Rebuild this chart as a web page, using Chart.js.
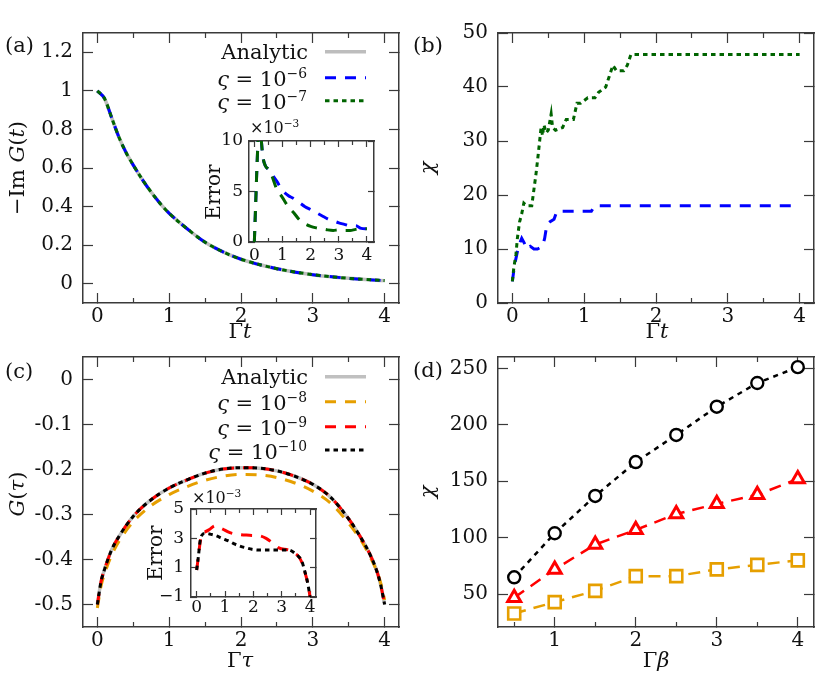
<!DOCTYPE html>
<html><head><meta charset="utf-8">
<script src="https://cdn.jsdelivr.net/npm/chart.js@4/dist/chart.umd.min.js"></script>
<style>
html,body{margin:0;padding:0;background:#fff;}
#root{position:relative;width:829px;height:675px;overflow:hidden;font-family:"DejaVu Serif",serif;color:#111;}
.t{position:absolute;white-space:nowrap;line-height:1;font-size:21px;z-index:5;}
.c{transform:translate(-50%,-50%);}
.r{transform:translate(-50%,-50%) rotate(-90deg);}
.lg{transform:translate(-100%,-50%);}
.l{transform:translate(0,-50%);}
sup{font-size:0.66em;vertical-align:0.55em;line-height:0;}
svg{position:absolute;left:0;top:0;z-index:4;}
</style></head><body><div id="root"></div>
<script>
// ---------- (a) -Im G(t) ----------
const tA = [0, 0.1, 0.2, 0.3, 0.4, 0.5, 0.6, 0.7, 0.8, 0.9, 1.0, 1.25, 1.5, 1.75, 2.0, 2.5, 3.0, 3.5, 4.0];
const imGAnalytic = [1.0, 0.96, 0.86, 0.76, 0.68, 0.615, 0.555, 0.5, 0.45, 0.405, 0.365, 0.285, 0.215, 0.165, 0.127, 0.078, 0.047, 0.028, 0.016];
const imGs6 = [1.0, 0.96, 0.86, 0.76, 0.68, 0.615, 0.555, 0.5, 0.45, 0.405, 0.365, 0.285, 0.215, 0.165, 0.127, 0.078, 0.047, 0.028, 0.016];
const imGs7 = [1.0, 0.96, 0.86, 0.76, 0.68, 0.615, 0.555, 0.5, 0.45, 0.405, 0.365, 0.285, 0.215, 0.165, 0.127, 0.078, 0.047, 0.028, 0.016];
const xTicksA = [0, 1, 2, 3, 4];
const xMinorA = [0.5, 1.5, 2.5, 3.5];
const yTicksA = [0, 0.2, 0.4, 0.6, 0.8, 1, 1.2];
// inset (a): error x 1e-3
const tErrA = [0, 0.05, 0.1, 0.15, 0.2, 0.25, 0.3, 0.4, 0.5, 0.6, 0.8, 1.0, 1.2, 1.4, 1.6, 1.8, 2.0, 2.2, 2.4, 2.6, 2.8, 3.0, 3.2, 3.4, 3.6, 3.8, 4.0];
const errAs6 = [0, 4, 8, 11, 12, 10, 8.5, 7.5, 7.2, 6.8, 6.0, 5.1, 4.6, 4.3, 3.9, 3.5, 3.2, 2.9, 2.6, 2.3, 2.1, 1.9, 1.75, 1.6, 1.6, 1.35, 1.3];
const errAs7 = [0, 4, 8, 11, 12, 10, 8.5, 7.5, 7.2, 6.7, 5.2, 4.4, 3.5, 2.9, 2.2, 1.8, 1.55, 1.4, 1.3, 1.2, 1.15, 1.2, 1.15, 1.15, 1.25, 1.3, 1.3];
const yTicksInA = [0, 5, 10];

// ---------- (b) chi vs t ----------
const tBs6 = [0, 0.03, 0.07, 0.1, 0.13, 0.17, 0.2, 0.25, 0.3, 0.35, 0.42, 0.45, 0.48, 0.52, 0.58, 0.62, 1.1, 1.15, 4.0];
const chiBs6 = [4, 7, 9.5, 11, 12, 11, 10, 10.5, 10, 10, 10.5, 12, 14.5, 15, 15.5, 17, 17, 18, 18];
const tBs7 = [0, 0.02, 0.05, 0.07, 0.1, 0.13, 0.16, 0.2, 0.27, 0.3, 0.33, 0.36, 0.38, 0.4, 0.42, 0.44, 0.47, 0.5, 0.54, 0.56, 0.6, 0.7, 0.75, 0.85, 0.9, 0.95, 1.05, 1.15, 1.2, 1.3, 1.35, 1.4, 1.45, 1.55, 1.6, 1.65, 1.7, 4.0];
const chiBs7 = [4, 6.5, 9, 12, 15, 16.5, 18.5, 18, 18, 21, 24, 27.5, 30, 32.5, 31, 33, 31.5, 32, 35, 32.5, 32, 32.5, 34, 34, 37, 37, 38, 38, 39, 40, 42, 44, 43, 43, 44, 46, 46, 46];
const yTicksB = [0, 10, 20, 30, 40, 50];

// ---------- (c) G(tau) ----------
const tauC = [0, 0.05, 0.1, 0.2, 0.3, 0.5, 0.75, 1, 1.25, 1.5, 1.75, 2, 2.25, 2.5, 2.75, 3, 3.25, 3.5, 3.7, 3.8, 3.9, 3.95, 4];
const gAnalytic = [-0.5, -0.45, -0.422, -0.378, -0.349, -0.304, -0.267, -0.241, -0.223, -0.208, -0.199, -0.196, -0.197, -0.203, -0.215, -0.233, -0.262, -0.31, -0.36, -0.39, -0.43, -0.46, -0.5];
const gs8 = [-0.508, -0.46, -0.432, -0.39, -0.36, -0.316, -0.28, -0.256, -0.238, -0.224, -0.215, -0.211, -0.212, -0.218, -0.23, -0.248, -0.275, -0.32, -0.365, -0.395, -0.43, -0.455, -0.49];
const gs9 = [-0.5, -0.45, -0.422, -0.378, -0.349, -0.304, -0.267, -0.241, -0.223, -0.208, -0.199, -0.196, -0.197, -0.203, -0.215, -0.233, -0.262, -0.31, -0.36, -0.39, -0.43, -0.46, -0.5];
const gs10 = [-0.5, -0.45, -0.422, -0.378, -0.349, -0.304, -0.267, -0.241, -0.223, -0.208, -0.199, -0.196, -0.197, -0.203, -0.215, -0.233, -0.262, -0.31, -0.36, -0.39, -0.43, -0.46, -0.5];
const yTicksC = [0, -0.1, -0.2, -0.3, -0.4, -0.5];
// inset (c)
const tauErrC = [0, 0.06, 0.12, 0.18, 0.3, 0.45, 0.65, 0.9, 1.15, 1.35, 1.55, 1.75, 1.95, 2.2, 2.45, 2.7, 2.9, 3.25, 3.45, 3.6, 3.7, 3.8, 3.9, 3.95, 4.0];
const errCs9 = [0.84, 1.75, 2.7, 3.3, 3.45, 3.6, 3.85, 3.65, 3.4, 3.3, 3.25, 3.22, 3.2, 3.18, 3.0, 2.65, 2.35, 2.2, 2.0, 1.75, 1.4, 0.8, 0.1, -0.4, -1];
const errCs10 = [0.84, 1.75, 2.8, 3.2, 3.34, 3.3, 3.2, 3.0, 2.8, 2.6, 2.45, 2.35, 2.25, 2.2, 2.2, 2.2, 2.2, 2.2, 2.0, 1.75, 1.5, 0.85, 0.1, -0.4, -1];
const yTicksInC = [-1, 1, 3, 5];

// ---------- (d) chi vs beta ----------
const betaD = [0.5, 1, 1.5, 2, 2.5, 3, 3.5, 4];
const chiDs8 = [33, 43, 53, 66, 66, 72, 76, 80];
const chiDs9 = [47, 72, 94, 107, 121, 130, 138, 152];
const chiDs10 = [65, 104, 137, 167, 191, 216, 237, 251];
const xTicksD = [1, 2, 3, 4];
const xMinorD = [0.5, 1.5, 2.5, 3.5];
const yTicksD = [50, 100, 150, 200, 250];

// ---------- helpers ----------
const FONT = '"DejaVu Serif", serif';
const FRAME = '#3a3a3a';
const TXT = '#111';
const root = document.getElementById('root');
const xy = (xs, ys) => xs.map((x, i) => ({ x: x, y: ys[i] }));

function buildScales(c) {
  const base = (pos, rng, ticks, len, weight, border) => ({
    type: 'linear', position: pos, min: rng[0], max: rng[1], weight: weight,
    afterBuildTicks: s => { s.ticks = ticks.map(v => ({ value: v })); },
    afterFit: (pos === 'left' || pos === 'right') ? (s => { s.width = 0; }) : (s => { s.height = 0; }),
    grid: { display: true, drawOnChartArea: false, drawTicks: true, tickLength: -len, tickColor: FRAME, tickWidth: 1.2 },
    border: { display: border, color: FRAME, width: 1.5 },
    ticks: { display: false }
  });
  const S = {};
  S.x = base('bottom', c.xr, c.xt, c.L, 0, true);
  S.x.afterFit = s => { s.height = c.H; };
  S.x.ticks = { display: true, font: { family: FONT, size: c.fs }, color: TXT, padding: c.xp, maxRotation: 0, autoSkip: false, callback: c.xcb || (v => String(v)) };
  S.xt = base('top', c.xr, c.xt, c.L, 0, true);
  if (c.xm) {
    S.xm = base('bottom', c.xr, c.xm, c.l, -1, false);
    S.xtm = base('top', c.xr, c.xm, c.l, -1, false);
  }
  S.y = base('left', c.yr, c.yt, c.L, 0, true);
  S.y.afterFit = s => { s.width = c.W; };
  S.y.ticks = { display: true, font: { family: FONT, size: c.fs }, color: TXT, padding: c.yp, autoSkip: false, callback: c.ycb || (v => String(v)) };
  S.yr = base('right', c.yr, c.yt, c.L, 0, true);
  return S;
}

function panel(area, c, datasets) {
  const pad = 40;
  const cw = area[2] - area[0] + c.W + pad, ch = area[3] - area[1] + pad + c.H;
  const cv = document.createElement('canvas');
  cv.width = cw; cv.height = ch;
  cv.style.cssText = 'position:absolute;left:' + (area[0] - c.W) + 'px;top:' + (area[1] - pad) + 'px;width:' + cw + 'px;height:' + ch + 'px;';
  root.appendChild(cv);
  new Chart(cv, {
    type: 'line',
    data: { datasets: datasets },
    options: {
      responsive: false, maintainAspectRatio: false, animation: false, events: [],
      layout: { padding: { left: 0, top: pad, right: pad, bottom: 0 } },
      plugins: { legend: { display: false }, tooltip: { enabled: false } },
      scales: buildScales(c)
    }
  });
}

const curve = (data, color, width, dash, tension) => ({
  data: data, borderColor: color, borderWidth: width, borderDash: dash || [],
  pointRadius: 0, fill: false, tension: tension, cubicInterpolationMode: tension ? 'monotone' : 'default'
});

// ---------- panels ----------
panel([83, 33, 399, 303],
  { xr: [-0.2, 4.2], yr: [-0.1, 1.3], xt: xTicksA, xm: xMinorA, yt: yTicksA, L: 10, l: 5, fs: 20, xp: 12, yp: 20, W: 83, H: 45 },
  [
    curve(xy(tA, imGs7), '#006400', 3, [4.5, 4], 0.4),
    curve(xy(tA, imGs6), '#0000ff', 3, [11, 9], 0.4),
    curve(xy(tA, imGAnalytic), '#bdbdbd', 3.5, [], 0.4)
  ]);

panel([498, 33, 814, 303],
  { xr: [-0.2, 4.2], yr: [0, 50], xt: xTicksA, xm: xMinorA, yt: yTicksB, L: 10, l: 5, fs: 20, xp: 12, yp: 20, W: 83, H: 45 },
  [
    curve(xy(tBs7, chiBs7), '#006400', 3, [4.5, 4], 0),
    curve(xy(tBs6, chiBs6), '#0000ff', 3, [11, 9], 0)
  ]);

panel([83, 357, 399, 627],
  { xr: [-0.2, 4.2], yr: [-0.55, 0.05], xt: xTicksA, xm: xMinorA, yt: yTicksC, L: 10, l: 5, fs: 20, xp: 12, yp: 20, W: 83, H: 45 },
  [
    curve(xy(tauC, gs10), '#000000', 3, [4.5, 4], 0.4),
    curve(xy(tauC, gs9), '#ff0000', 3, [11, 9], 0.4),
    curve(xy(tauC, gs8), '#e69f00', 3, [11, 9], 0.4),
    curve(xy(tauC, gAnalytic), '#c0c0c0', 3.5, [], 0.4)
  ]);

const markers = (data, color, dash, style, r, bw) => ({
  data: data, borderColor: color, borderWidth: 2.5, borderDash: dash, fill: false, tension: 0,
  pointStyle: style, pointRadius: r, pointBorderWidth: bw, pointBorderColor: color, pointBackgroundColor: '#ffffff'
});
panel([498, 357, 814, 627],
  { xr: [0.3, 4.2], yr: [21, 260], xt: xTicksD, xm: xMinorD, yt: yTicksD, L: 10, l: 5, fs: 20, xp: 12, yp: 20, W: 83, H: 45 },
  [
    markers(xy(betaD, chiDs10), '#000000', [5, 5], 'circle', 6, 2.4),
    markers(xy(betaD, chiDs9), '#ff0000', [12, 8], 'triangle', 7.5, 3),
    markers(xy(betaD, chiDs8), '#e69f00', [12, 8], 'rect', 8.5, 2.6)
  ]);

// insets
panel([249, 141, 374, 242],
  { xr: [-0.19, 4.25], yr: [0, 10], xt: xTicksA, xm: xMinorA, yt: yTicksInA, L: 6, l: 4, fs: 17, xp: 9, yp: 12, W: 45, H: 35 },
  [
    curve(xy(tErrA, errAs7), '#006400', 3, [11, 9], 0.3),
    curve(xy(tErrA, errAs6), '#0000ff', 3, [11, 9], 0.3)
  ]);

panel([191, 509, 316, 597],
  { xr: [-0.2, 4.21], yr: [-1, 5], xt: xTicksA, xm: xMinorA, yt: yTicksInC, L: 6, l: 4, fs: 17, xp: 6, yp: 13, W: 45, H: 35,
    ycb: v => (v < 0 ? '\u2212' + (-v) : String(v)) },
  [
    curve(xy(tauErrC, errCs10), '#000000', 3, [4.5, 4], 0.3),
    curve(xy(tauErrC, errCs9), '#ff0000', 3, [11, 9], 0.3)
  ]);

// ---------- text ----------
function txt(html, x, y, cls, size) {
  const d = document.createElement('div');
  d.className = 't ' + cls;
  d.innerHTML = html;
  d.style.left = x + 'px'; d.style.top = y + 'px';
  if (size) d.style.fontSize = size + 'px';
  root.appendChild(d);
}
txt('(a)', 5, 45, 'l');
txt('(b)', 413, 45, 'l');
txt('(c)', 5, 371, 'l');
txt('(d)', 413, 370, 'l');
txt('\u2212Im <i>G</i>(<i>t</i>)', 17, 168, 'r');
txt('<i>\u03c7</i>', 427, 168, 'r');
txt('<i>G</i>(<i>\u03c4</i>)', 17, 494, 'r');
txt('<i>\u03c7</i>', 427, 492, 'r');
txt('\u0393<i>t</i>', 240, 331, 'c');
txt('\u0393<i>t</i>', 657, 331, 'c');
txt('\u0393<i>\u03c4</i>', 240, 660, 'c');
txt('\u0393<i>\u03b2</i>', 656, 660, 'c');
txt('Error', 213, 192, 'r', 20);
txt('Error', 155, 553, 'r', 20);
txt('\u00d710<sup>\u22123</sup>', 250, 128, 'l', 16);
txt('\u00d710<sup>\u22123</sup>', 192, 498, 'l', 16);
// legends
txt('Analytic', 308, 52, 'lg');
txt('<i>\u03c2</i> = 10<sup>\u22126</sup>', 307, 79, 'lg');
txt('<i>\u03c2</i> = 10<sup>\u22127</sup>', 307, 102, 'lg');
txt('Analytic', 308, 377, 'lg');
txt('<i>\u03c2</i> = 10<sup>\u22128</sup>', 307, 403, 'lg');
txt('<i>\u03c2</i> = 10<sup>\u22129</sup>', 307, 428, 'lg');
txt('<i>\u03c2</i> = 10<sup>\u221210</sup>', 307, 452, 'lg');

const legendLines = [
  [51.7, '#bdbdbd', 3.5, ''], [77.7, '#0000ff', 3, '11 9'], [100.7, '#006400', 3, '4.5 4'],
  [376.7, '#c0c0c0', 3.5, ''], [401.7, '#e69f00', 3, '11 9'], [426.7, '#ff0000', 3, '11 9'], [450, '#000000', 3, '4.5 4']
];
let svg = '<svg width="829" height="675" xmlns="http://www.w3.org/2000/svg">';
legendLines.forEach(([y, col, w, d]) => {
  svg += '<line x1="325" x2="366" y1="' + y + '" y2="' + y + '" stroke="' + col + '" stroke-width="' + w + '"' + (d ? ' stroke-dasharray="' + d + '"' : '') + '/>';
});
svg += '</svg>';
root.insertAdjacentHTML('beforeend', svg);
</script>
</body></html>
